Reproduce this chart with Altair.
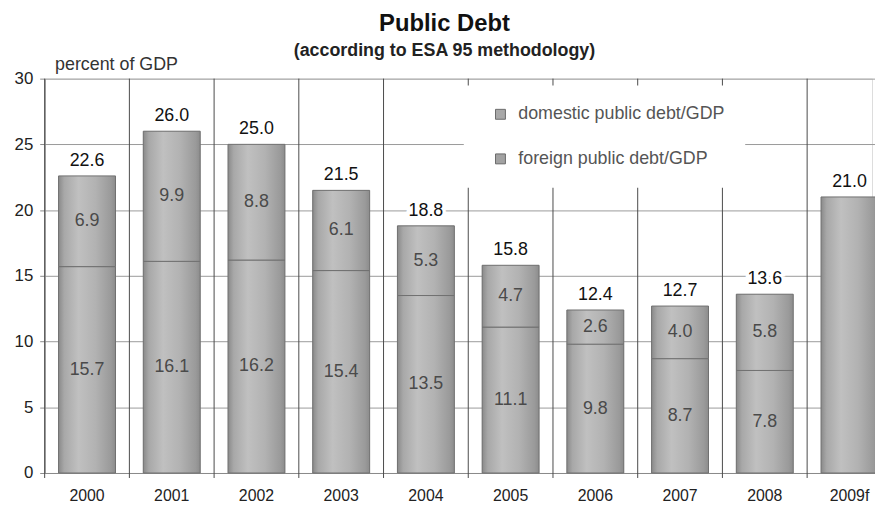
import altair as alt
import pandas as pd

FONT = "Liberation Sans"

years = ["2000", "2001", "2002", "2003", "2004", "2005", "2006", "2007", "2008", "2009f"]
foreign = [15.7, 16.1, 16.2, 15.4, 13.5, 11.1, 9.8, 8.7, 7.8, None]
domestic = [6.9, 9.9, 8.8, 6.1, 5.3, 4.7, 2.6, 4.0, 5.8, None]
totals = [22.6, 26.0, 25.0, 21.5, 18.8, 15.8, 12.4, 12.7, 13.6, 21.0]
series_names = ["domestic public debt/GDP", "foreign public debt/GDP"]
y_ticks = [0, 5, 10, 15, 20, 25, 30]

rows = []
for yr, f, d, t in zip(years, foreign, domestic, totals):
    if f is None:
        rows.append(dict(year=yr, series="total", lo=0.0, hi=t, value=t, mid=t / 2))
    else:
        rows.append(dict(year=yr, series=series_names[1], lo=0.0, hi=f, value=f, mid=f / 2))
        rows.append(dict(year=yr, series=series_names[0], lo=f, hi=f + d, value=d, mid=f + d / 2))
seg = pd.DataFrame(rows)
tot = pd.DataFrame(dict(year=years, total=totals))

xscale = alt.Scale(domain=years, range=[0, 855], paddingInner=0, paddingOuter=0)
yscale = alt.Scale(domain=[0, 30], nice=False, zero=True)

xaxis = alt.Axis(title=None, labelAngle=0, ticks=False, domain=True, domainColor="#8a8a8a",
                 labelFont=FONT, labelFontSize=16, labelColor="#222", labelPadding=15, grid=False)
yaxis = alt.Axis(values=y_ticks, grid=True, gridColor="#9a9a9a", gridWidth=1,
                 domainColor="#8a8a8a", tickColor="#8a8a8a", tickSize=5,
                 labelFont=FONT, labelFontSize=17, labelColor="#222", labelPadding=7,
                 title="percent of GDP", titleAngle=0, titleAlign="left", titleBaseline="middle",
                 titleX=10, titleY=-14, titleFont=FONT, titleFontSize=18,
                 titleFontWeight="normal", titleColor="#333")


def X(**kw):
    return alt.X("year:N", scale=xscale, axis=xaxis, **kw)


def Y(field):
    return alt.Y(field, scale=yscale, axis=yaxis, title="percent of GDP")


# category separators (vertical lines)
rules = alt.Chart(tot).mark_rule(color="#4a4a4a", strokeWidth=1).encode(
    x=X(bandPosition=0),
    y=alt.YDatum(-0.38, scale=yscale, axis=yaxis, title="percent of GDP"),
    y2=alt.Y2Datum(30),
)

legend = alt.Legend(title=None, orient="none", legendX=423, legendY=7, fillColor="white",
                    padding=20, symbolType="square", symbolSize=100,
                    symbolStrokeColor="#6a6a6a", symbolStrokeWidth=1, symbolOffset=8,
                    labelFont=FONT, labelFontSize=18, labelColor="#555", labelOffset=9,
                    rowPadding=27, labelLimit=400)

flat = alt.Chart(seg).transform_filter(alt.datum.series != "total").mark_bar(
    width=alt.RelativeBandSize(0.672)
).encode(
    x=X(),
    y=Y("lo:Q"),
    y2="hi:Q",
    color=alt.Color("series:N", scale=alt.Scale(domain=series_names, range=["#a8a8a8", "#a2a2a2"]),
                    legend=legend),
)

grad = alt.LinearGradient(
    gradient="linear", x1=0, x2=1, y1=0, y2=0,
    stops=[
        alt.GradientStop(offset=0, color="#8a8a8a"),
        alt.GradientStop(offset=0.1, color="#a8a8a8"),
        alt.GradientStop(offset=0.35, color="#c0c0c0"),
        alt.GradientStop(offset=0.65, color="#b2b2b2"),
        alt.GradientStop(offset=0.92, color="#9a9a9a"),
        alt.GradientStop(offset=1, color="#8c8c8c"),
    ],
)

bars = alt.Chart(seg).mark_bar(width=alt.RelativeBandSize(0.672), fill=grad,
                               stroke="#707070", strokeWidth=1).encode(
    x=X(),
    y=Y("lo:Q"),
    y2="hi:Q",
)

seg_text = alt.Chart(seg).transform_filter(alt.datum.series != "total").mark_text(
    font=FONT, fontSize=18, color="#4a4a4a"
).encode(
    x=X(),
    y=Y("mid:Q"),
    text=alt.Text("value:Q", format=".1f"),
)

halo = alt.Chart(tot).mark_text(
    font=FONT, fontSize=18, color="white", stroke="white", strokeWidth=7, dy=-15
).encode(
    x=X(),
    y=Y("total:Q"),
    text=alt.Text("total:Q", format=".1f"),
)

tot_text = alt.Chart(tot).mark_text(font=FONT, fontSize=18, color="#111", dy=-15).encode(
    x=X(),
    y=Y("total:Q"),
    text=alt.Text("total:Q", format=".1f"),
)

chart = alt.layer(rules, flat, bars, seg_text, halo, tot_text).properties(
    width=835,
    height=398,
    autosize=alt.AutoSizeParams(type="none"),
    padding={"left": 37, "top": 69, "right": 3, "bottom": 28},
    title=alt.TitleParams(
        "Public Debt", subtitle="(according to ESA 95 methodology)",
        font=FONT, fontSize=24, fontWeight="bold", color="#111",
        subtitleFont=FONT, subtitleFontSize=18, subtitleFontWeight="bold",
        subtitleColor="#222", subtitlePadding=6,
        anchor="middle", frame="group", offset=-4, dx=-14,
    ),
).configure_view(stroke=None).configure(background="white")

chart.save("out.html", embed_options={"renderer": "svg", "actions": False})
